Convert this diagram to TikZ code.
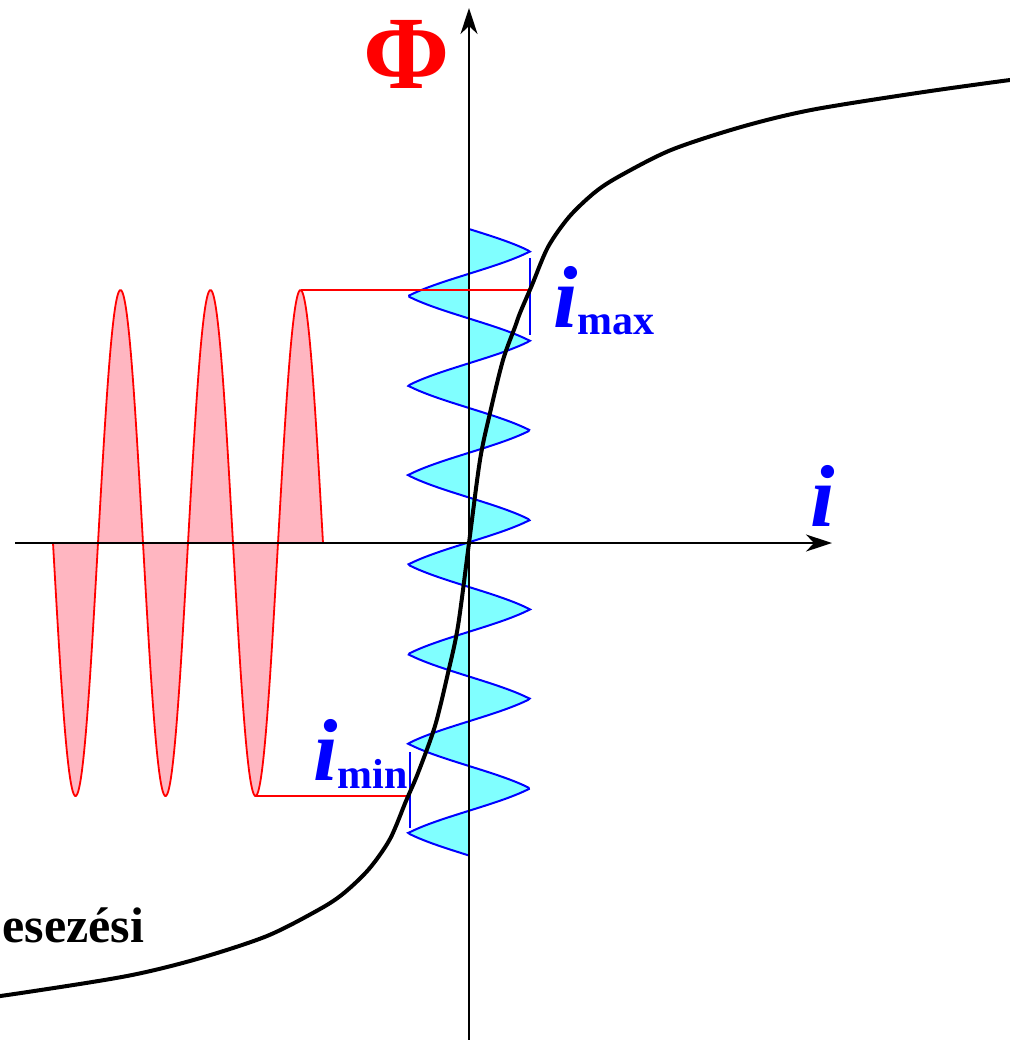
\documentclass[tikz,border=0pt]{standalone}
\usepackage{fontspec}
\setmainfont{Liberation Serif}
\usetikzlibrary{arrows.meta}
\definecolor{pinkfill}{RGB}{255,182,193}
\definecolor{cyanfill}{RGB}{128,255,255}

\begin{document}
\begin{tikzpicture}[
  x=0.5pt, y=-0.5pt,
  declare function={ph(\t)=sin(360/89.5*(\t-229)); cur(\t)=61*(0.3*ph(\t)+0.7*asin(max(-1,min(1,ph(\t))))/90);},
  axis/.style={draw=black, line width=1pt, -{Stealth[length=13pt, width=8.5pt, inset=4pt]}},
  redwave/.style={draw=red, line width=0.9pt},
  bluewave/.style={draw=blue, line width=1pt},
  lead/.style={draw=red, line width=0.8pt},
  bracket/.style={draw=blue, line width=0.9pt},
  curve/.style={draw=black, line width=2pt, line join=round},
  lbl/.style={inner sep=0pt, font=\bfseries}
]
\useasboundingbox (0,0) rectangle (1010,1040);
\clip (0,0) rectangle (1010,1040);

\coordinate (O) at (469,543);
\coordinate (xa) at (15,543);
\coordinate (xb) at (832,543);
\coordinate (ya) at (469,1045);
\coordinate (yb) at (469,8);
\coordinate (fmax) at (300.5,290);
\coordinate (cmax) at (530,290);
\coordinate (fmin) at (255.5,796);
\coordinate (cmin) at (408,796);
\coordinate (bmax1) at (530,258);
\coordinate (bmax2) at (530,335);
\coordinate (bmin1) at (410,752);
\coordinate (bmin2) at (410,828);

% flux in time
\fill[pinkfill] (53,543) -- plot[domain=53:323, samples=271] (\x, {543+253*sin(4*(\x-53))}) -- cycle;
\draw[redwave] plot[domain=53:323, samples=271] (\x, {543+253*sin(4*(\x-53))});

% current in time
\fill[cyanfill] (469,229) -- plot[domain=229:855.5, samples=500, variable=\t] ({469+cur(\t)}, \t) -- cycle;
\draw[bluewave] plot[domain=229:855.5, samples=500, variable=\t] ({469+cur(\t)}, \t);

\draw[axis] (xa) -- (xb);
\draw[axis] (ya) -- (yb);

\draw[lead] (fmax) -- (cmax);
\draw[lead] (fmin) -- (cmin);
\draw[bracket] (bmax1) -- (bmax2);
\draw[bracket] (bmin1) -- (bmin2);

% magnetisation curve
\draw[curve] plot[smooth] coordinates {(-72,1006) (21,993) (127,976) (197,959) (267,936) (320,909) (344,893) (369,869) (390,839) (406,801) (418,773) (435,726) (448,673) (458,626) (469,543) (480,460) (490,413) (503,360) (515,327) (520,313) (532,285) (548,247) (569,217) (594,193) (618,177) (671,150) (741,127) (811,110) (917,93) (1010,80) (1040,77)};

\node[lbl, text=red, font=\bfseries\fontsize{52}{52}\selectfont] (philbl) at (407,54) {Φ};
\node[lbl, text=blue, anchor=base, font=\bfseries\itshape\fontsize{44}{44}\selectfont] (ilbl) at (823,526) {i};
\node[lbl, text=blue, anchor=base west] (imaxlbl) at (553,327) {\fontsize{44}{44}\selectfont\itshape i\fontsize{21}{21}\selectfont\upshape\raisebox{-3.5pt}{max}};
\node[lbl, text=blue, anchor=base west] (iminlbl) at (313,780) {\fontsize{44}{44}\selectfont\itshape i\fontsize{21}{21}\selectfont\upshape\raisebox{-4pt}{min}};
\node[lbl, anchor=base west, font=\bfseries\fontsize{25}{25}\selectfont] (curvelbl) at (2,942) {esezési};
\end{tikzpicture}
\end{document}
